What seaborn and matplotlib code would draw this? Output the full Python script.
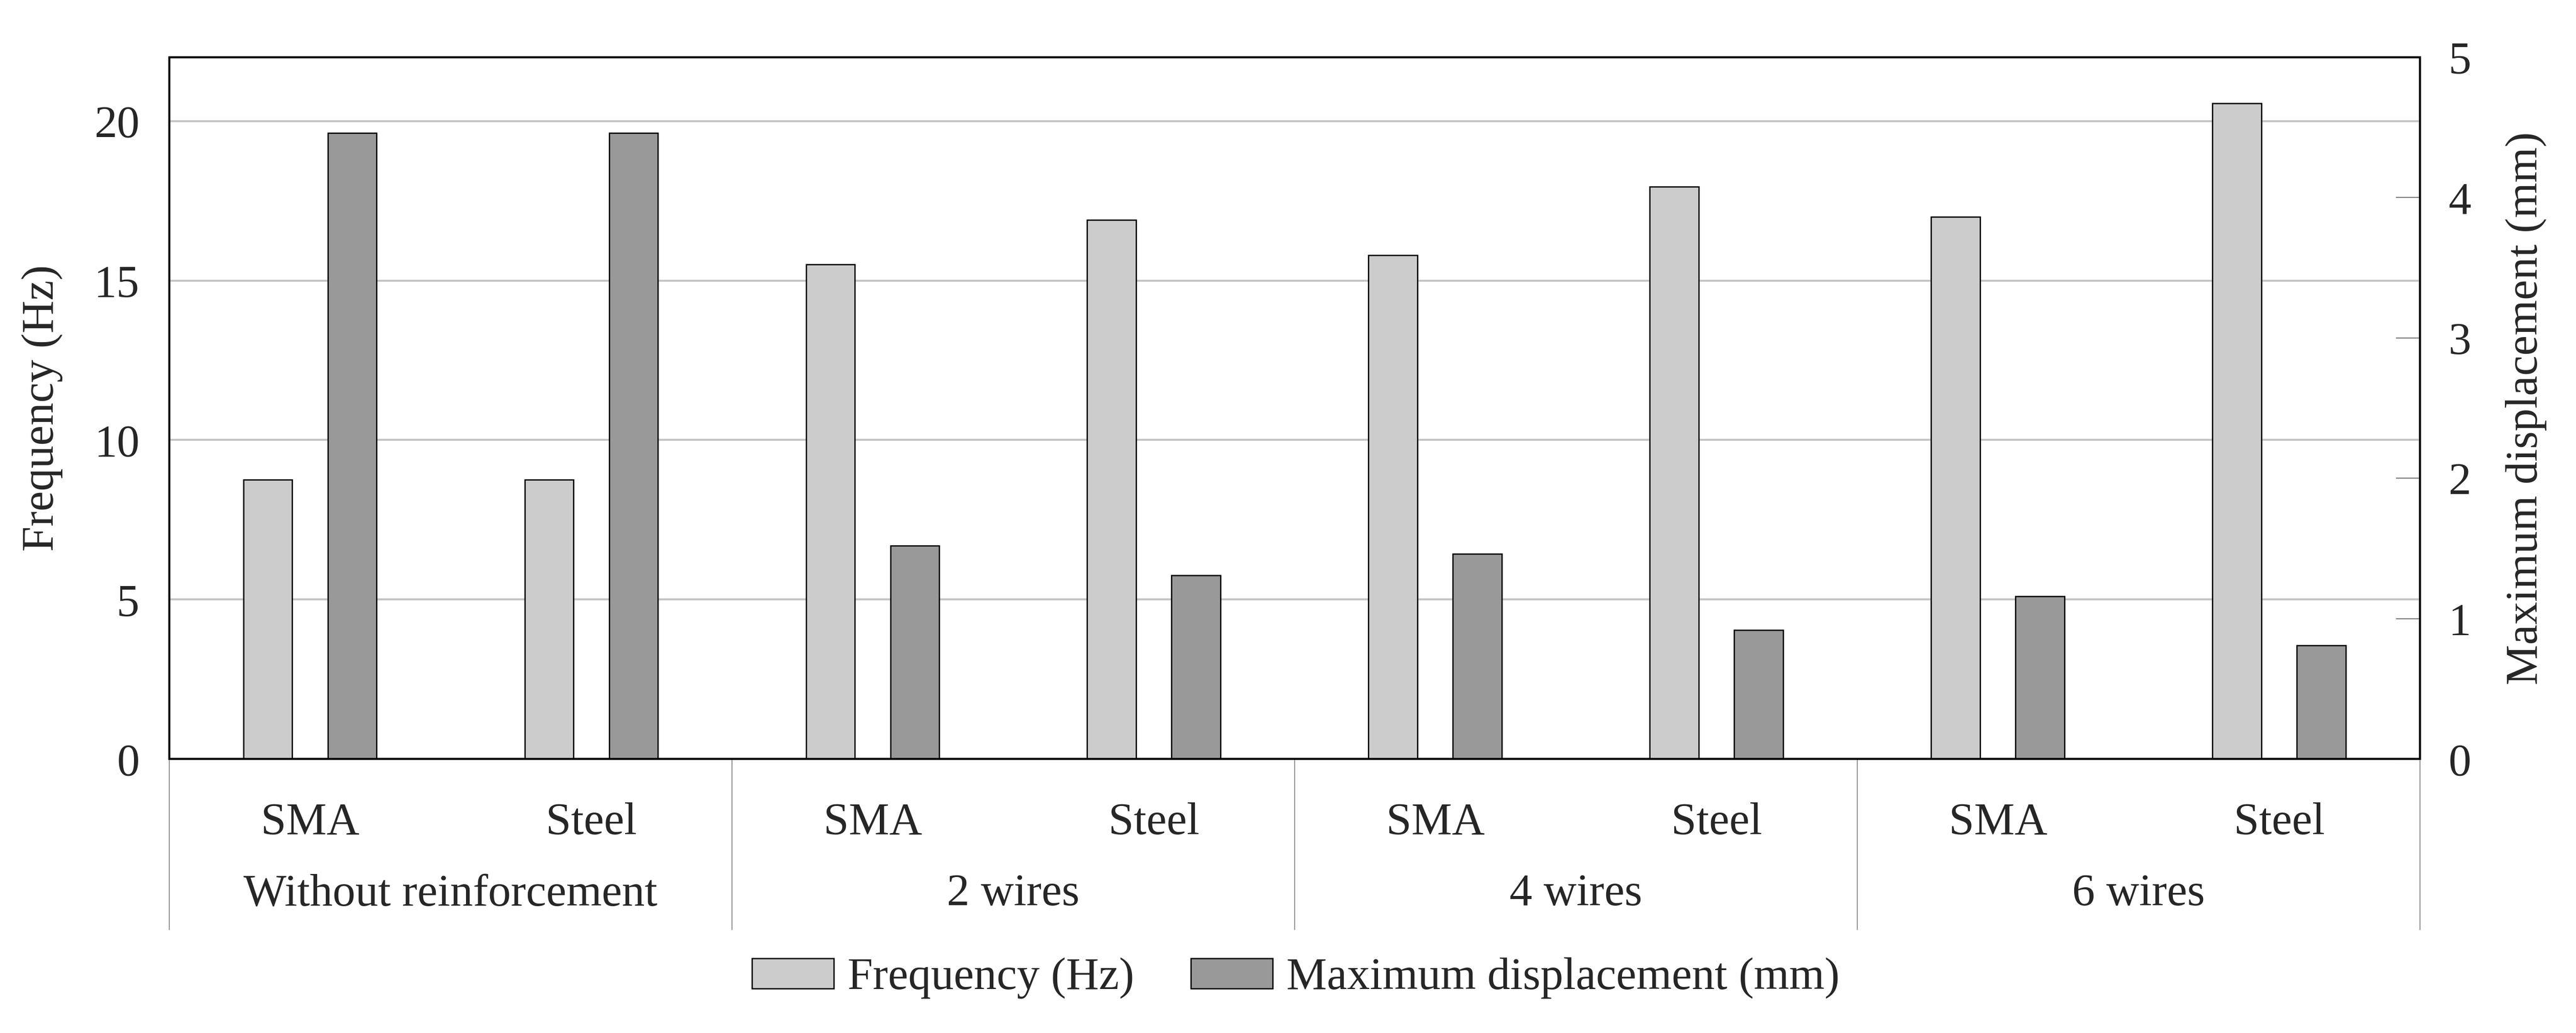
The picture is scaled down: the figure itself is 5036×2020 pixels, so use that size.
import pandas as pd
import numpy as np
import matplotlib
matplotlib.use('Agg')
import matplotlib.pyplot as plt
import seaborn as sns
from matplotlib.patches import Patch

# data
groups = ['Without reinforcement', '2 wires', '4 wires', '6 wires']
materials = ['SMA', 'Steel']
frequency = [8.75, 8.75, 15.5, 16.9, 15.8, 17.95, 17.0, 20.55]
displacement = [4.46, 4.46, 1.52, 1.31, 1.46, 0.92, 1.16, 0.81]

FREQ = 'Frequency (Hz)'
DISP = 'Maximum displacement (mm)'
colors = {FREQ: '#cccccc', DISP: '#999999'}

cats = [f'{g}|{m}' for g in groups for m in materials]
freq_df = pd.DataFrame({'cat': cats, 'value': frequency, 'series': FREQ})
disp_df = pd.DataFrame({'cat': cats, 'value': displacement, 'series': DISP})

FS = 32

sns.set_style('white')
plt.rcParams['font.family'] = ['Liberation Serif', 'DejaVu Serif']
plt.rcParams['font.size'] = FS

fig = plt.figure(figsize=(25.18, 10.1), dpi=200)
ax = fig.add_axes([0.0657, 0.2653, 0.8737, 0.6793])
ax2 = ax.twinx()

bar_kw = dict(x='cat', y='value', hue='series', order=cats, hue_order=[FREQ, DISP],
              palette=colors, dodge=True, width=0.6, gap=0.42, edgecolor='black',
              linewidth=0.9, legend=False)
sns.barplot(data=freq_df, ax=ax, **bar_kw)
sns.barplot(data=disp_df, ax=ax2, **bar_kw)

ax.set_xlim(-0.5, len(cats) - 0.5)
ax.set_ylim(0, 22)
ax2.set_ylim(0, 5)
ax.set_yticks([0, 5, 10, 15, 20])
ax2.set_yticks([0, 1, 2, 3, 4, 5])

ax.set_axisbelow(True)
ax.yaxis.grid(True, color='#c4c4c4', linewidth=1.4)
ax.xaxis.grid(False)

ax.set_xticks(range(len(cats)))
ax.set_xticklabels([])
ax2.set_xticks([])
ax.tick_params(axis='x', length=0)
ax.tick_params(axis='y', length=0, pad=21, labelsize=FS)
ax2.tick_params(axis='y', direction='in', length=17, width=0.8, color='#808080',
                pad=20, labelsize=FS)

ax.set_xlabel('')
ax.set_ylabel(FREQ, fontsize=FS, labelpad=22)
ax2.set_xlabel('')
ax2.set_ylabel(DISP, fontsize=FS, labelpad=24)

for a in (ax, ax2):
    for s in a.spines.values():
        s.set_linewidth(1.4)
        s.set_color('black')

# two-level category labels and separators below the axis
trans = ax.get_xaxis_transform()
for i, c in enumerate(cats):
    ax.text(i, -0.107, c.split('|')[1], transform=trans, ha='center', va='baseline',
            fontsize=FS)
for i, g in enumerate(groups):
    ax.text(2 * i + 0.5, -0.2085, g, transform=trans, ha='center', va='baseline',
            fontsize=FS)
for k in range(len(groups) + 1):
    ax.plot([2 * k - 0.5, 2 * k - 0.5], [0, -0.243], transform=trans, color='#808080',
            linewidth=0.6, clip_on=False)

handles = [Patch(facecolor=colors[FREQ], edgecolor='black', linewidth=0.9, label=FREQ),
           Patch(facecolor=colors[DISP], edgecolor='black', linewidth=0.9, label=DISP)]
fig.legend(handles=handles, loc='center', bbox_to_anchor=(0.503, 0.053), ncol=2,
           frameon=False, fontsize=FS, handlelength=1.8, handleheight=0.65,
           handletextpad=0.3, columnspacing=1.25)

fig.savefig('out.png', dpi=200)
